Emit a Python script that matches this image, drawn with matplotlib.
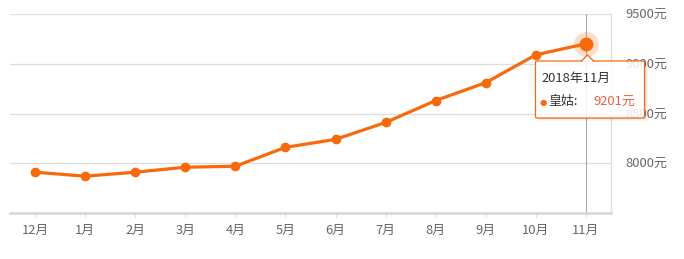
import matplotlib.pyplot as plt
from matplotlib.patches import FancyBboxPatch, Polygon, Rectangle
from matplotlib.lines import Line2D

plt.rcParams['font.family'] = ['Noto Sans CJK SC', 'DejaVu Sans']

# data
months = ['12月', '1月', '2月', '3月', '4月', '5月', '6月', '7月', '8月', '9月', '10月', '11月']
prices = [7910, 7870, 7910, 7960, 7970, 8160, 8240, 8410, 8630, 8810, 9090, 9201]
y_ticks = [8000, 8500, 9000, 9500]
tip_title = '2018年11月'
tip_name = '皇姑'

orange = '#f76a0c'
grid_c = '#dddddd'
text_c = '#666666'

fig = plt.figure(figsize=(6.84, 2.59), dpi=100)
ax = fig.add_axes([10 / 684, 46 / 259, 601 / 684, 199 / 259])

x = list(range(len(months)))
ax.set_xlim(-0.5, len(months) - 0.5)
ax.set_ylim(7500, 9500)

# grid
for v in y_ticks:
    ax.axhline(v, color=grid_c, lw=0.9, zorder=1)
for s in ['top', 'left']:
    ax.spines[s].set_visible(False)
ax.spines['right'].set_color(grid_c)
ax.spines['right'].set_linewidth(0.9)
ax.spines['bottom'].set_color('#d6d6d6')
ax.spines['bottom'].set_linewidth(1.8)

# highlight vertical line at last point
ax.axvline(x[-1], color='#aaaaaa', lw=0.8, zorder=2)

# line
ax.plot(x, prices, color=orange, lw=2.3, marker='o', ms=6, zorder=4, solid_capstyle='round')
ax.plot(x[-1], prices[-1], 'o', color=orange, ms=18, alpha=0.22, mec='none', zorder=5)
ax.plot(x[-1], prices[-1], 'o', color=orange, ms=10, mec='none', zorder=6)

ax.set_xticks(x)
ax.set_xticklabels(months, fontsize=9.3, color=text_c)
ax.tick_params(axis='x', length=3, width=0.8, color='#dddddd', pad=5)
ax.yaxis.tick_right()
ax.set_yticks(y_ticks)
ax.set_yticklabels([f'{v}元' for v in y_ticks], fontsize=9.3, color=text_c)
ax.tick_params(axis='y', length=0, pad=10)

# tooltip (figure pixel coords)
def fx(px):
    return px / 684
def fy(py):
    return 1 - py / 259

bx0, bx1, by0, by1 = 535.5, 644.5, 61, 118
# soft shadow strips on the right and bottom
for d, a in [(1, 0.14), (2, 0.08), (3, 0.04)]:
    fig.add_artist(Rectangle((fx(bx0 + 2), fy(by1 + d)), fx(bx1 + d) - fx(bx0 + 2), 1 / 259,
                             transform=fig.transFigure, facecolor='black', alpha=a,
                             edgecolor='none', zorder=9))
    fig.add_artist(Rectangle((fx(bx1 + d - 1), fy(by1 + d - 1)), 1 / 684, fy(by0 + 2) - fy(by1 + d - 1),
                             transform=fig.transFigure, facecolor='black', alpha=a,
                             edgecolor='none', zorder=9))
box = FancyBboxPatch((fx(bx0), fy(by1)), fx(bx1) - fx(bx0), fy(by0) - fy(by1),
                     boxstyle='round,pad=0,rounding_size=0.004', transform=fig.transFigure,
                     facecolor=(1, 1, 1, 0.86), edgecolor=orange, lw=0.9, zorder=10)
fig.add_artist(box)
tri_pts = [(fx(581.5), fy(by0)), (fx(587.5), fy(55)), (fx(593.5), fy(by0))]
tri = Polygon([(fx(581.5), fy(by0 + 0.8))] + tri_pts[1:2] + [(fx(593.5), fy(by0 + 0.8))],
              closed=True, transform=fig.transFigure, facecolor='white',
              edgecolor='none', zorder=11)
fig.add_artist(tri)
fig.add_artist(Line2D([p[0] for p in tri_pts], [p[1] for p in tri_pts],
                      transform=fig.transFigure, color=orange, lw=0.9, zorder=12))
fig.text(fx(541), fy(78), tip_title, fontsize=9.3, color='#333333', va='center', zorder=12)
fig.text(fx(539.5), fy(102.5), '●', fontsize=6, color=orange, va='center', zorder=12,
         family=['DejaVu Sans'])
fig.text(fx(548), fy(102), tip_name + ':', fontsize=9.3, color='#333333', va='center', zorder=12)
fig.text(fx(593), fy(102), f'{prices[-1]}元', fontsize=9.3, color='#e8603c', va='center', zorder=12)

fig.savefig('out.png', dpi=100)
